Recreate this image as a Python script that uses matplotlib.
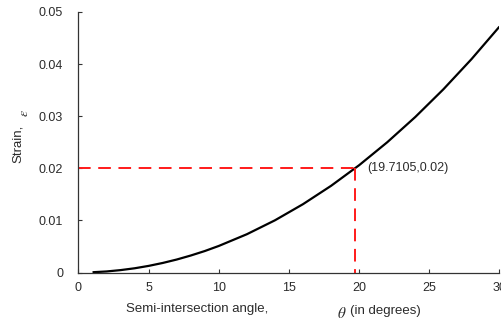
import matplotlib
matplotlib.use("Agg")
import matplotlib.pyplot as plt


# values
THETA_DEG = [1, 2, 3, 4, 5, 6, 7, 8, 9, 10, 12, 14, 16, 18, 20, 22, 24, 26, 28, 30]
STRAIN = [0.00005, 0.0002, 0.00046, 0.00081, 0.00127, 0.00183, 0.00249, 0.00326,
          0.00412, 0.0051, 0.00735, 0.01002, 0.01312, 0.01664, 0.0206, 0.025,
          0.02985, 0.03516, 0.04094, 0.0472]
MARK_POINT = (19.7105, 0.02)
X_TICKS = [0, 5, 10, 15, 20, 25, 30]
Y_TICKS = [0, 0.01, 0.02, 0.03, 0.04, 0.05]
Y_TICK_LABELS = ["0", "0.01", "0.02", "0.03", "0.04", "0.05"]

TEXT_COLOR = "#2b2b2b"
FONT = "Liberation Sans"


def main() -> None:
    plt.rcParams["font.family"] = [FONT, "DejaVu Sans"]
    plt.rcParams["mathtext.fontset"] = "stix"

    fig = plt.figure(figsize=(5.02, 3.22), dpi=100)
    ax = fig.add_axes([78.5 / 502, 1 - 272.5 / 322, 421 / 502, 260.5 / 322])

    ax.plot(THETA_DEG, STRAIN, color="black", linewidth=1.6, solid_capstyle="butt")
    mx, my = MARK_POINT
    dash = (0, (6.5, 3.9))
    ax.plot([0, mx], [my, my], color="#ff1a1a", linewidth=1.4, linestyle=dash)
    ax.plot([mx, mx], [my, 0], color="#ff1a1a", linewidth=1.4, linestyle=dash)
    ax.text(mx + 0.85, my, f"({mx},{my})", fontsize=9, color=TEXT_COLOR,
            va="center", ha="left")

    ax.set_xlim(0, 30)
    ax.set_ylim(0, 0.05)
    ax.set_xticks(X_TICKS)
    ax.set_yticks(Y_TICKS)
    ax.set_yticklabels(Y_TICK_LABELS)
    ax.spines["top"].set_visible(False)
    ax.spines["right"].set_visible(False)
    for side in ("left", "bottom"):
        ax.spines[side].set_color("#333333")
        ax.spines[side].set_linewidth(0.9)
    ax.tick_params(axis="both", direction="in", length=3, width=0.8,
                   colors="#333333", labelcolor=TEXT_COLOR, labelsize=9)
    ax.tick_params(axis="y", pad=11)
    ax.tick_params(axis="x", pad=7)

    # axis labels are split pieces, as in the reference
    fig.text(18 / 502, 1 - 144 / 322, "Strain,", rotation=90, fontsize=9.5,
             color=TEXT_COLOR, ha="center", va="center")
    fig.text(24 / 502, 1 - 113 / 322, r"$\epsilon$", rotation=90, fontsize=10,
             color=TEXT_COLOR, ha="center", va="center")
    fig.text(197 / 502, 1 - 309 / 322, "Semi-intersection angle,", fontsize=9.5,
             color=TEXT_COLOR, ha="center", va="center")
    fig.text(342 / 502, 1 - 313 / 322, r"$\theta$", fontsize=11,
             color=TEXT_COLOR, ha="center", va="center")
    fig.text(350 / 502, 1 - 311 / 322, "(in degrees)", fontsize=9.5,
             color=TEXT_COLOR, ha="left", va="center")

    fig.savefig("out.png", dpi=100)


if __name__ == "__main__":
    main()
